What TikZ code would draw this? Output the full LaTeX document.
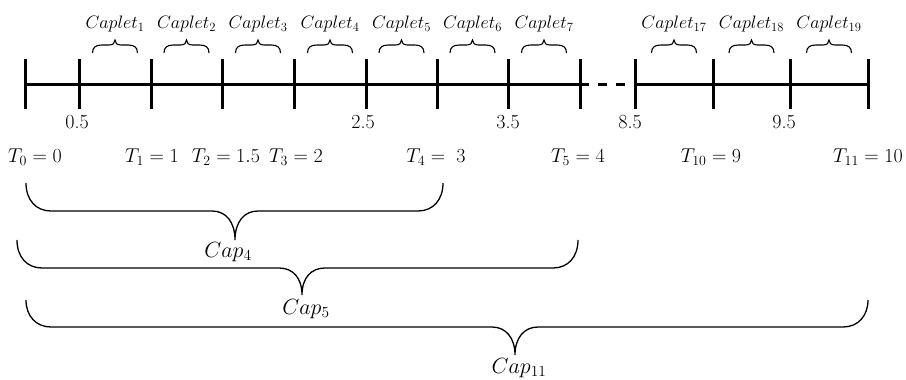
\RequirePackage{fix-cm}
\documentclass[tikz,border=0pt]{standalone}
\usepackage{amsmath}
\begin{document}
\begin{tikzpicture}[x=1pt,y=-1pt,
  axis/.style={line width=3pt},
  tickmark/.style={line width=3pt},
  bigb/.style={line width=1.3pt},
  smallb/.style={line width=1.1pt},
  cl/.style={inner sep=0pt,font=\fontsize{18}{20}\selectfont},
  num/.style={inner sep=0pt,font=\fontsize{20}{23}\selectfont},
  tl/.style={inner sep=0pt,font=\fontsize{20}{24}\selectfont},
  capl/.style={inner sep=0pt,font=\fontsize{22}{26}\selectfont},
  sbrace/.pic={\draw[smallb] (-22.5,8) .. controls (-22.5,2) and (-19,0) .. (-13,0) -- (-6,0) .. controls (-2,0) and (0,-2) .. (0,-5) .. controls (0,-2) and (2,0) .. (6,0) -- (13,0) .. controls (19,0) and (22.5,2) .. (22.5,8);}
]
\useasboundingbox (0,0) rectangle (906,380);
% tick coordinates
\foreach \i/\x in {0/25,1/79,2/151,3/222,4/294,5/366,6/437,7/508,8/580,9/635,10/713,11/790,12/868}
  \coordinate (t\i) at (\x,84);
% main line
\draw[axis] (t0) -- (t8);
\draw[axis,dash pattern=on 9pt off 9pt] (t8) -- (t9);
\draw[axis] (t9) -- (t12);
\foreach \i in {0,...,12}
  \draw[tickmark] ([yshift=-25pt]t\i) -- ([yshift=25pt]t\i);
% caplet braces and labels
\foreach \m/\k in {115/1,186.5/2,258/3,330/4,401.5/5,472.5/6,544/7,674/17,751.5/18,829/19}{
  \pic at (\m,45) {sbrace};
  \node[cl] (c\k) at (\m,24) {$Caplet_{\k}$};
}
% numbers below ticks
\node[num] (n05) at (77,122) {0.5};
\node[num] (n25) at (363,122) {2.5};
\node[num] (n35) at (508,122) {3.5};
\node[num] (n85) at (630,122) {8.5};
\node[num] (n95) at (784,122) {9.5};
% T labels
\node[tl] (T0) at (35,157) {$T_0 = 0$};
\node[tl] (T1) at (152,157) {$T_1 = 1$};
\node[tl] (T2) at (226,157) {$T_2 = 1.5$};
\node[tl] (T3) at (296,157) {$T_3 = 2$};
\node[tl] (T4) at (436,157) {$T_4 = \;3$};
\node[tl] (T5) at (578,157) {$T_5 = 4$};
\node[tl] (T10) at (711,157) {$T_{10} = 9$};
\node[tl] (T11) at (868,157) {$T_{11} = 10$};
% big braces
\draw[bigb] (26,183) .. controls (26,200) and (36,211) .. (51,211) -- (212,211)
  .. controls (226,211) and (235,222) .. (235,240)
  .. controls (235,222) and (244,211) .. (258,211) -- (418,211)
  .. controls (433,211) and (443,200) .. (443,183);
\node[capl] (cap4) at (228,252) {$Cap_4$};
\draw[bigb] (17,240) .. controls (17,257) and (27,268) .. (42,268) -- (279,268)
  .. controls (293,268) and (302,278) .. (302,295)
  .. controls (302,278) and (311,268) .. (325,268) -- (553,268)
  .. controls (568,268) and (578,257) .. (578,240);
\node[capl] (cap5) at (306,309) {$Cap_5$};
\draw[bigb] (26,300) .. controls (26,316) and (36,327) .. (51,327) -- (492,327)
  .. controls (506,327) and (515,338) .. (515,355)
  .. controls (515,338) and (524,327) .. (538,327) -- (843,327)
  .. controls (858,327) and (868,316) .. (868,300);
\node[capl] (cap11) at (519,368) {$Cap_{11}$};
\end{tikzpicture}
\end{document}
